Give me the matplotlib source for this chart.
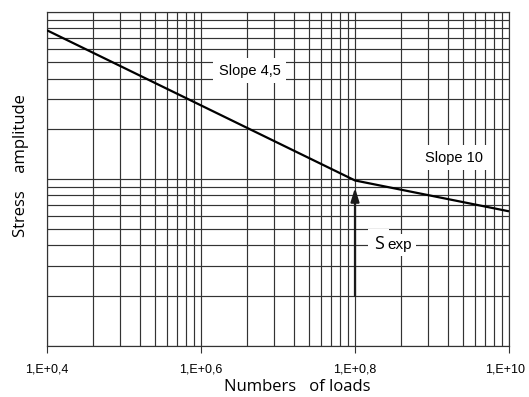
import numpy as np
import matplotlib.pyplot as plt
from matplotlib.ticker import LogLocator, NullFormatter
from matplotlib.transforms import ScaledTranslation

# S-N curve, values in the chart's own decade units
cycles = [1.0, 100.0, 1000.0]
stress = [78.0, 9.8, 6.4]

x_ticks = [1, 10, 100, 1000]
x_tick_labels = ['1,E+0,4', '1,E+0,6', '1,E+0,8', '1,E+10']

arrow_cycles = 100.0
arrow_from, arrow_to = 1.99, 8.85

narrow = ['Liberation Sans Narrow', 'Liberation Sans', 'DejaVu Sans']
humanist = ['Open Sans', 'DejaVu Sans']

fig = plt.figure(figsize=(5.29, 3.97), dpi=100)
ax = fig.add_axes([0.0888, 0.1292, 0.8734, 0.8398])

ax.set_xscale('log')
ax.set_yscale('log')
ax.set_xlim(1, 1000)
ax.set_ylim(1, 100)

# full log grid, major + minor, all the same
ax.xaxis.set_major_locator(LogLocator(base=10))
ax.xaxis.set_minor_locator(LogLocator(base=10, subs=np.arange(2, 10)))
ax.yaxis.set_major_locator(LogLocator(base=10))
ax.yaxis.set_minor_locator(LogLocator(base=10, subs=np.arange(2, 10)))
ax.grid(True, which='both', color='#333333', lw=0.85)
ax.set_axisbelow(True)

ax.set_xticks(x_ticks)
ax.set_xticklabels(x_tick_labels, family=narrow, fontsize=9)
ax.xaxis.set_minor_formatter(NullFormatter())
ax.tick_params(axis='x', which='major', direction='out', length=5, width=0.8,
               pad=8, color='#333333')
ax.tick_params(axis='x', which='minor', length=0)
ax.tick_params(axis='y', which='both', length=0, labelleft=False)
ax.yaxis.set_major_formatter(NullFormatter())
ax.yaxis.set_minor_formatter(NullFormatter())

# last label sits at the edge in the original, nudge it in
last = ax.get_xticklabels()[-1]
last.set_transform(last.get_transform() + ScaledTranslation(-4 / 100, 0, fig.dpi_scale_trans))

for s in ax.spines.values():
    s.set_color('#333333')
    s.set_linewidth(0.85)

ax.plot(cycles, stress, color='black', lw=1.6, solid_capstyle='butt', zorder=4)

ax.annotate('', xy=(arrow_cycles, arrow_to), xytext=(arrow_cycles, arrow_from),
            arrowprops=dict(arrowstyle='-|>,head_length=0.8,head_width=0.25',
                            color='#1a1a1a', lw=1.6, shrinkA=0, shrinkB=0),
            zorder=4)

box = dict(facecolor='white', edgecolor='none', pad=4)
ax.text(20.8, 44.5, 'Slope 4,5', family=narrow, fontsize=10.5,
        ha='center', va='center', bbox=box, zorder=3)
ax.text(440, 13.4, 'Slope 10', family=narrow, fontsize=10.5,
        ha='center', va='center', bbox=box, zorder=3)
ax.text(142.7, 3.8, 'S', family=humanist, fontsize=13,
        ha='center', va='baseline', bbox=dict(facecolor='white', edgecolor='none', pad=4),
        zorder=3)
ax.text(196, 3.8, 'exp', family=narrow, fontsize=11,
        ha='center', va='baseline', bbox=dict(facecolor='white', edgecolor='none', pad=3),
        zorder=3.1)

ax.set_xlabel('Numbers   of loads', family=humanist, fontsize=12, x=0.541, labelpad=2)
ax.set_ylabel('Stress    amplitude', family=humanist, fontsize=12, y=0.54, labelpad=13)

fig.savefig('out.png', dpi=100)
